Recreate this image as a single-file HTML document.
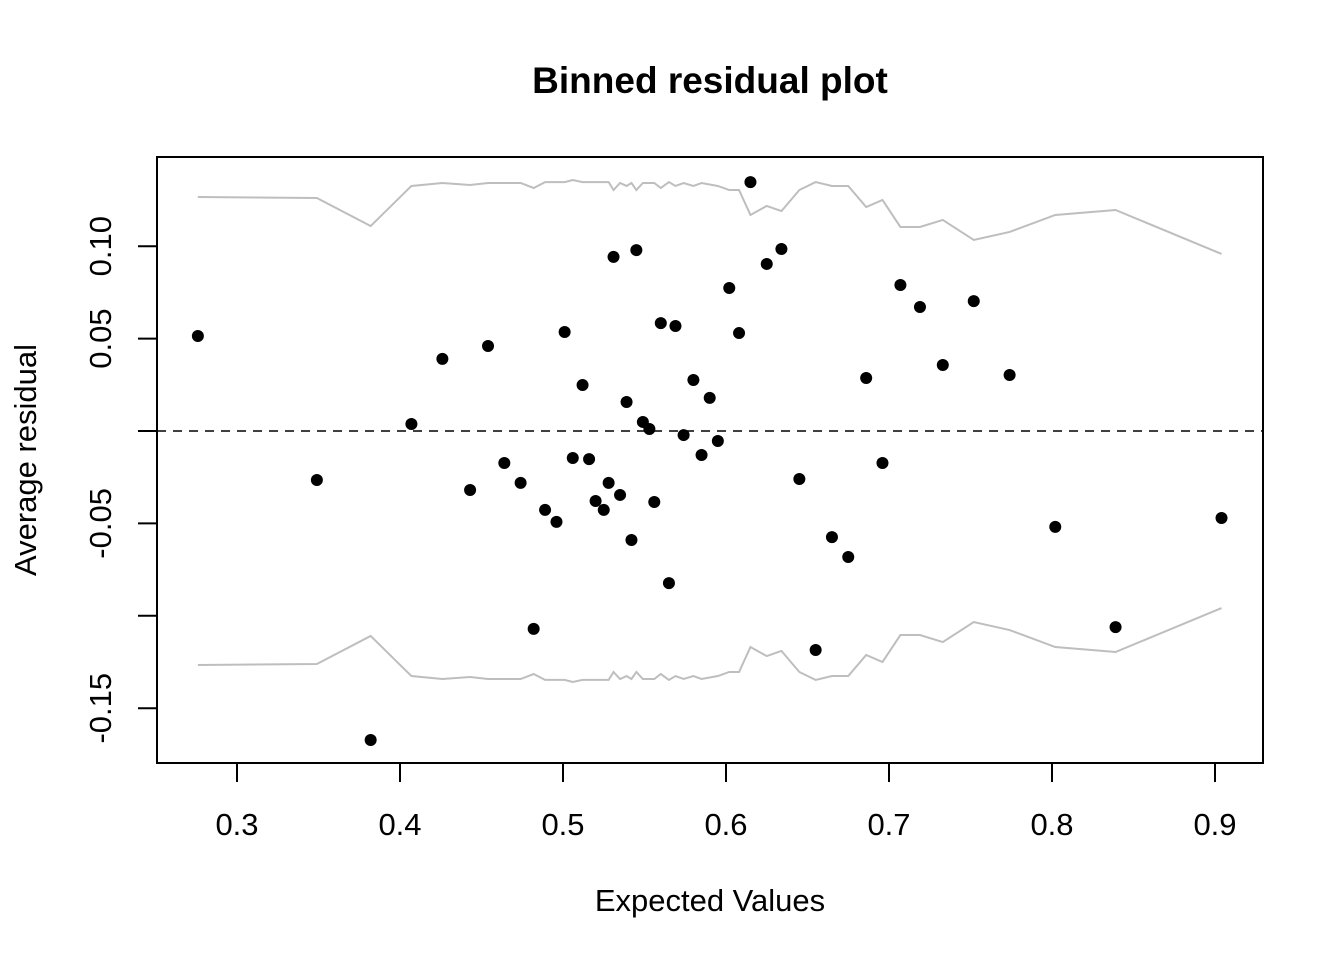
<!DOCTYPE html>
<html><head><meta charset="utf-8"><style>
body{margin:0;background:#fff}
svg text{font-family:"Liberation Sans",Arial,sans-serif;fill:#000}
</style></head><body>
<svg id="chart" width="1344" height="960" xmlns="http://www.w3.org/2000/svg">
<rect width="1344" height="960" fill="#fff"/>
<text x="710" y="93" font-size="37" font-weight="bold" text-anchor="middle">Binned residual plot</text>
<text x="710" y="911" font-size="31" text-anchor="middle">Expected Values</text>
<text transform="translate(36,460) rotate(-90)" font-size="31" text-anchor="middle">Average residual</text>
<g id="bounds"></g><g id="points"></g><g id="axes"></g>
<rect x="157" y="157" width="1106" height="606" fill="none" stroke="#000" stroke-width="2"/>
</svg>
<script>
const xTicks=[0.3,0.4,0.5,0.6,0.7,0.8,0.9];
const xTickLabels=["0.3","0.4","0.5","0.6","0.7","0.8","0.9"];
const yTicks=[0.10,0.05,0,-0.05,-0.10,-0.15];
const yTickLabels=["0.10","0.05","","-0.05","","-0.15"];
const xVals=[0.276,0.349,0.382,0.407,0.426,0.443,0.454,0.464,0.474,0.482,0.489,0.496,0.501,0.506,0.512,0.516,0.520,0.525,0.528,0.531,0.535,0.539,0.542,0.545,0.549,0.553,0.556,0.560,0.565,0.569,0.574,0.580,0.585,0.590,0.595,0.602,0.608,0.615,0.625,0.634,0.645,0.655,0.665,0.675,0.686,0.696,0.707,0.719,0.733,0.752,0.774,0.802,0.839,0.904];
const yVals=[0.0514,-0.0265,-0.1672,0.0038,0.039,-0.0319,0.046,-0.0173,-0.0281,-0.1071,-0.0427,-0.0492,0.0536,-0.0146,0.0249,-0.0152,-0.0379,-0.0427,-0.0281,0.0942,-0.0346,0.0157,-0.059,0.0979,0.0049,0.0011,-0.0384,0.0584,-0.0823,0.0568,-0.0022,0.0276,-0.013,0.0179,-0.0054,0.0774,0.053,0.1347,0.0904,0.0985,-0.026,-0.1185,-0.0574,-0.0682,0.0287,-0.0173,0.079,0.0671,0.0357,0.0703,0.0303,-0.0519,-0.1061,-0.0471];
const boundX=[0.276,0.349,0.382,0.407,0.426,0.443,0.454,0.474,0.482,0.489,0.501,0.506,0.512,0.528,0.531,0.535,0.539,0.542,0.545,0.549,0.556,0.560,0.565,0.569,0.574,0.580,0.585,0.595,0.602,0.608,0.615,0.625,0.634,0.645,0.655,0.665,0.675,0.686,0.696,0.707,0.719,0.733,0.752,0.774,0.802,0.839,0.904];
const boundVals=[0.1266,0.1261,0.1109,0.1326,0.1342,0.1331,0.1342,0.1342,0.1315,0.1347,0.1347,0.1358,0.1347,0.1347,0.1304,0.1342,0.1326,0.1342,0.1304,0.1342,0.1342,0.1315,0.1347,0.1326,0.1342,0.1326,0.1342,0.1326,0.1304,0.1304,0.1169,0.1218,0.119,0.1304,0.1347,0.1326,0.1326,0.1212,0.125,0.1104,0.1104,0.1142,0.1034,0.1077,0.1169,0.1196,0.0958];
const NS="http://www.w3.org/2000/svg";
function sx(v){return 237+(v-0.3)*1630;}
function sy(v){return 431-v*1848;}
function mk(tag,attrs,parent){const e=document.createElementNS(NS,tag);for(const k in attrs)e.setAttribute(k,attrs[k]);parent.appendChild(e);return e;}
const ax=document.getElementById('axes');
xTicks.forEach((t,i)=>{
  const l=mk('line',{x1:sx(t),x2:sx(t),y1:763,y2:782,stroke:'#000','stroke-width':2},ax);
  
  
  const tx=mk('text',{x:sx(t),y:835,'font-size':31,'text-anchor':'middle'},ax);
  tx.textContent=xTickLabels[i];
  
  
});
yTicks.forEach((t,i)=>{
  const l=mk('line',{x1:138,x2:157,y1:sy(t),y2:sy(t),stroke:'#000','stroke-width':2},ax);
  
  
  if(yTickLabels[i]){
    const tx=mk('text',{transform:`translate(111,${sy(t)}) rotate(-90)`,'font-size':31,'text-anchor':'middle'},ax);
    tx.textContent=yTickLabels[i];
    
    
  }
});
const zl=mk('line',{x1:157,x2:1263,y1:sy(0),y2:sy(0),stroke:'#000','stroke-width':1.6,'stroke-dasharray':'9,7'},ax);


const bg=document.getElementById('bounds');
const up=mk('polyline',{points:boundX.map((x,i)=>sx(x)+','+sy(boundVals[i])).join(' '),fill:'none',stroke:'#bebebe','stroke-width':2},bg);


const lo=mk('polyline',{points:boundX.map((x,i)=>sx(x)+','+sy(-boundVals[i])).join(' '),fill:'none',stroke:'#bebebe','stroke-width':2},bg);


const pg=document.getElementById('points');
xVals.forEach((x,i)=>{
  const c=mk('circle',{cx:sx(x),cy:sy(yVals[i]),r:6,fill:'#000'},pg);
  
  
});
</script>
</body></html>
